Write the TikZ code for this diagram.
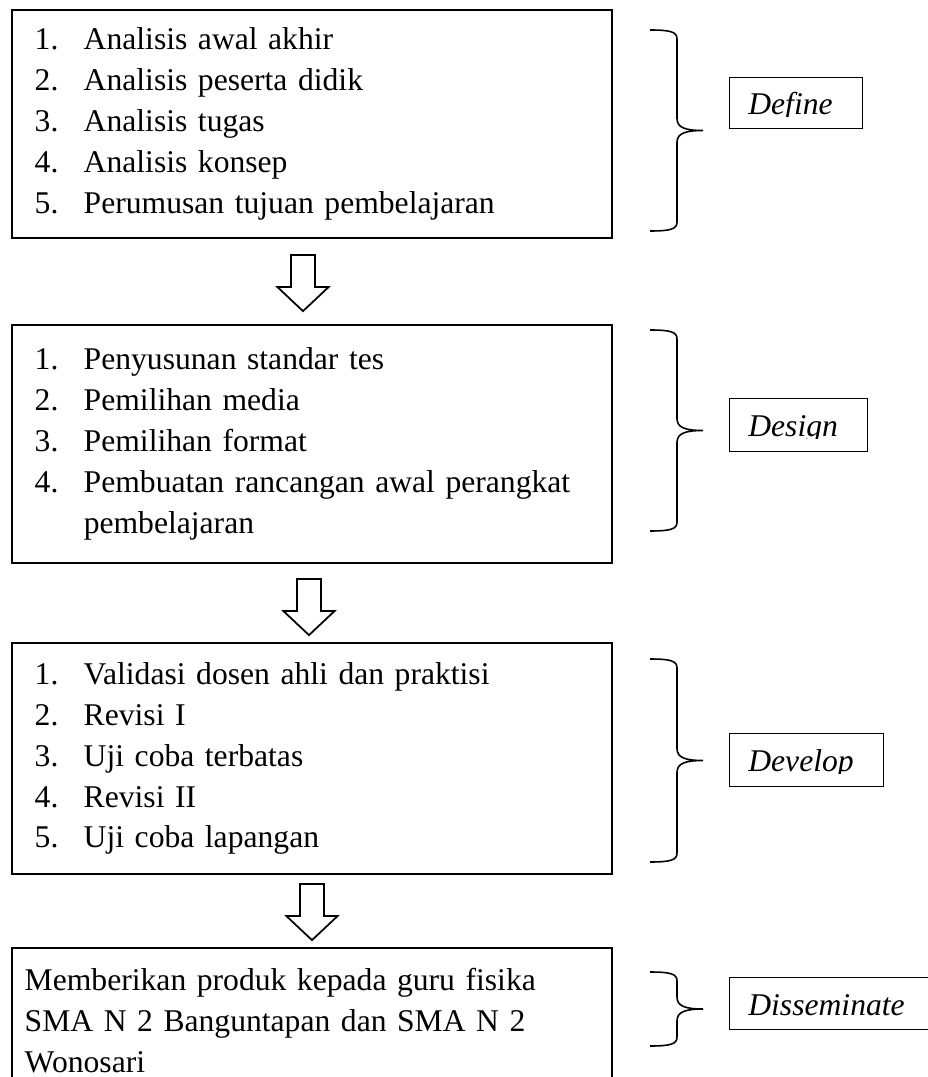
\documentclass[tikz,border=0pt]{standalone}
\usepackage{fontspec}
\setmainfont{Liberation Serif}
\usetikzlibrary{calc}

\newcommand\stageitem[2]{\makebox[33.6pt][l]{\hspace*{5.7pt}#1}#2}

\tikzset{
  stagebox/.style={draw, line width=1.2pt, anchor=north west, inner xsep=6.8pt, inner ysep=0pt,
    minimum width=12cm, text width=327pt, align=left, font=\fontsize{18pt}{23.3pt}\selectfont},
  phasebox/.style={draw, line width=0.6pt, anchor=north west, inner sep=0pt},
  phasetext/.style={anchor=base west, inner sep=0pt, font=\fontsize{18pt}{23.3pt}\selectfont\itshape},
  bracelines/.style={line width=0.9pt},
  arrowline/.style={line width=1pt, fill=white},
  downarrow/.pic={\draw[arrowline] (-12,0) -- (12,0) -- (12,32) -- (25.5,32) -- (0,56) -- (-25.5,32) -- (-12,32) -- cycle;}
}

\begin{document}
\begin{tikzpicture}[x=0.02cm, y=-0.02cm]
  \useasboundingbox (0,0) rectangle (928,1077);
  \clip (0,0) rectangle (928,1077);

  % the four stages
  \node[stagebox, minimum height=228*0.02cm] (define) at (11,9) {%
    \stageitem{1.}{Analisis awal akhir}\\
    \stageitem{2.}{Analisis peserta didik}\\
    \stageitem{3.}{Analisis tugas}\\
    \stageitem{4.}{Analisis konsep}\\
    \stageitem{5.}{Perumusan tujuan pembelajaran}};
  \node[stagebox, minimum height=238*0.02cm] (design) at (11,324) {%
    \stageitem{1.}{Penyusunan standar tes}\\
    \stageitem{2.}{Pemilihan media}\\
    \stageitem{3.}{Pemilihan format}\\
    \stageitem{4.}{Pembuatan rancangan awal perangkat}\\
    \hspace*{33.6pt}pembelajaran};
  \node[stagebox, minimum height=231*0.02cm] (develop) at (11,642) {%
    \stageitem{1.}{Validasi dosen ahli dan praktisi}\\
    \stageitem{2.}{Revisi I}\\
    \stageitem{3.}{Uji coba terbatas}\\
    \stageitem{4.}{Revisi II}\\
    \stageitem{5.}{Uji coba lapangan}};
  \node[stagebox, minimum height=145*0.02cm] (disseminate) at (11,947) {%
    Memberikan produk kepada guru fisika\\
    SMA N 2 Banguntapan dan SMA N 2\\
    Wonosari};

  % hollow arrows between the stages
  \pic at ($(define.south)+(-9,16)$) {downarrow};
  \pic at ($(design.south)+(-3,15)$) {downarrow};
  \pic at ($(develop.south)+(0,9)$) {downarrow};

  % braces
  \foreach \bt/\bb in {30/231, 330/531, 659/862, 972/1046} {
    \pgfmathsetmacro\bm{(\bt+\bb)/2}
    \draw[bracelines] (650,\bt) .. controls (671,\bt) and (677,\bt+2) .. (677,\bt+9)
      -- (677,\bm-12) .. controls (677,\bm-3) and (685,\bm) .. (703,\bm)
      .. controls (685,\bm) and (677,\bm+3) .. (677,\bm+12)
      -- (677,\bb-9) .. controls (677,\bb-2) and (671,\bb) .. (650,\bb);
  }

  % phase labels
  \foreach \lname/\ltop/\lw/\lh in {Define/77/133/51, Design/398/138/53, Develop/733/154/53, Disseminate/977/205/52} {
    \node[phasebox, minimum width=\lw*0.02cm, minimum height=\lh*0.02cm] (lab\lname) at (729,\ltop) {};
    \begin{scope}
      \clip (729,\ltop) rectangle (729+\lw,\ltop+40);
      \node[phasetext] at (748,\ltop+38) {\lname};
    \end{scope}
  }
\end{tikzpicture}
\end{document}
